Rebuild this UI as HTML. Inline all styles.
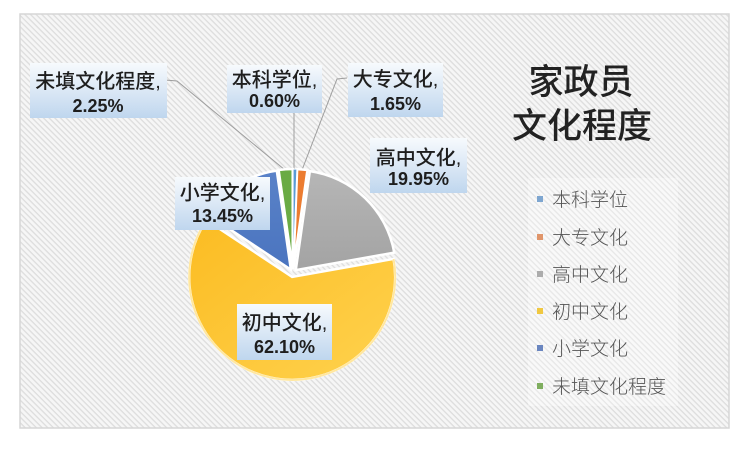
<!DOCTYPE html>
<html><head><meta charset="utf-8">
<style>
html,body{margin:0;padding:0;background:#fff;}
svg{display:block;}
.l1{font-family:"Liberation Sans","Noto Sans CJK SC",sans-serif;font-size:20px;fill:#1e1e1e;text-anchor:middle;font-weight:500;}
.l2{font-family:"Liberation Sans","Noto Sans CJK SC",sans-serif;font-size:18px;font-weight:bold;fill:#1e1e1e;text-anchor:middle;}
.lg{font-family:"Liberation Sans","Noto Sans CJK SC",sans-serif;font-size:19px;fill:#555;font-weight:300;}
.tt{font-family:"Liberation Sans","Noto Sans CJK SC",sans-serif;font-size:35px;fill:#222;text-anchor:middle;font-weight:500;}
</style></head>
<body>
<svg width="750" height="453" viewBox="0 0 750 453" xmlns="http://www.w3.org/2000/svg">
<defs>
<pattern id="st" width="4" height="4" patternUnits="userSpaceOnUse" patternTransform="rotate(45)">
<rect width="4" height="4" fill="#f6f6f6"/>
<rect y="0" width="4" height="1.3" fill="#dddddd"/>
</pattern>
<linearGradient id="box" x1="0" y1="0" x2="0" y2="1">
<stop offset="0" stop-color="#f7fafd"/>
<stop offset="1" stop-color="#bfd6ee"/>
</linearGradient>
<linearGradient id="gy" x1="0" y1="0" x2="0" y2="1">
<stop offset="0" stop-color="#b6b6b6"/>
<stop offset="1" stop-color="#a3a3a3"/>
</linearGradient>
<linearGradient id="yl" x1="0" y1="0" x2="1" y2="1">
<stop offset="0" stop-color="#fbbc22"/>
<stop offset="1" stop-color="#ffd24e"/>
</linearGradient>
<linearGradient id="bl" x1="0" y1="0" x2="0" y2="1">
<stop offset="0" stop-color="#5a82c8"/>
<stop offset="1" stop-color="#4a74bf"/>
</linearGradient>
</defs>
<rect x="20" y="14" width="709" height="414" fill="url(#st)" stroke="#d6d6d6" stroke-width="1.5"/>
<rect x="528" y="178" width="150" height="228" fill="#ffffff" opacity="0.3"/>

<!-- leader lines -->
<polyline points="165,80 177,81 285,170" fill="none" stroke="#9e9e9e" stroke-width="1"/>
<polyline points="294,113 294,170" fill="none" stroke="#9e9e9e" stroke-width="1"/>
<polyline points="347,78 337,79 302,170" fill="none" stroke="#9e9e9e" stroke-width="1"/>

<!-- pie slices -->
<path d="M292.19,276.92 L393.60,258.89 A103,103 0 1,1 206.29,220.08 Z" fill="url(#yl)" stroke="#fff" stroke-width="2.5"/>
<path d="M393.60,258.89 A103,103 0 1,1 206.29,220.08" fill="none" stroke="#ffe7a0" stroke-width="2"/>
<path d="M295.78,270.12 L309.87,171.12 A100,100 0 0,1 394.24,252.62 Z" fill="url(#gy)" stroke="#fff" stroke-width="2.5"/>
<path d="M290.86,269.62 L207.46,214.44 A100,100 0 0,1 276.77,170.62 Z" fill="url(#bl)" stroke="#fff" stroke-width="2.5"/>
<path d="M292.72,269.01 L278.63,170.01 A100,100 0 0,1 292.72,169.01 Z" fill="#6aab44" stroke="#fff" stroke-width="2.5"/>
<path d="M293.36,269.02 L297.13,169.09 A100,100 0 0,1 307.45,170.02 Z" fill="#ec7c30" stroke="#fff" stroke-width="2.5"/>
<path d="M293.08,269.0 L293.08,169.0 A100,100 0 0,1 296.85,169.07 Z" fill="#5b9bd5" stroke="#fff" stroke-width="1"/>

<!-- label boxes -->
<rect x="30" y="63" width="137" height="55" fill="url(#box)"/>
<text class="l1" x="98" y="88">未填文化程度,</text>
<text class="l2" x="98" y="112">2.25%</text>

<rect x="227" y="65" width="95" height="48" fill="url(#box)"/>
<text class="l1" x="274.5" y="86.5">本科学位,</text>
<text class="l2" x="274.5" y="107">0.60%</text>

<rect x="348" y="63" width="95" height="54" fill="url(#box)"/>
<text class="l1" x="395.5" y="86">大专文化,</text>
<text class="l2" x="395.5" y="110">1.65%</text>

<rect x="370" y="138" width="97" height="55" fill="url(#box)"/>
<text class="l1" x="418.5" y="164.5">高中文化,</text>
<text class="l2" x="418.5" y="185">19.95%</text>

<rect x="175" y="177" width="95" height="53" fill="url(#box)"/>
<text class="l1" x="222.5" y="199.5">小学文化,</text>
<text class="l2" x="222.5" y="222">13.45%</text>

<rect x="237" y="304" width="95" height="56" fill="url(#box)"/>
<text class="l1" x="284.5" y="329.5">初中文化,</text>
<text class="l2" x="284.5" y="353">62.10%</text>

<!-- title -->
<text class="tt" x="581" y="94">家政员</text>
<text class="tt" x="582" y="138">文化程度</text>

<!-- legend -->
<rect x="537" y="196" width="6" height="6" fill="#7ea6d0"/>
<text class="lg" x="552" y="206">本科学位</text>
<rect x="537" y="234" width="6" height="6" fill="#e0956a"/>
<text class="lg" x="552" y="244">大专文化</text>
<rect x="537" y="271" width="6" height="6" fill="#acacac"/>
<text class="lg" x="552" y="281">高中文化</text>
<rect x="537" y="308" width="6" height="6" fill="#f0c840"/>
<text class="lg" x="552" y="318">初中文化</text>
<rect x="537" y="345" width="6" height="6" fill="#6a86c0"/>
<text class="lg" x="552" y="355">小学文化</text>
<rect x="537" y="383" width="6" height="6" fill="#7fae5f"/>
<text class="lg" x="552" y="393">未填文化程度</text>
</svg>
</body></html>
